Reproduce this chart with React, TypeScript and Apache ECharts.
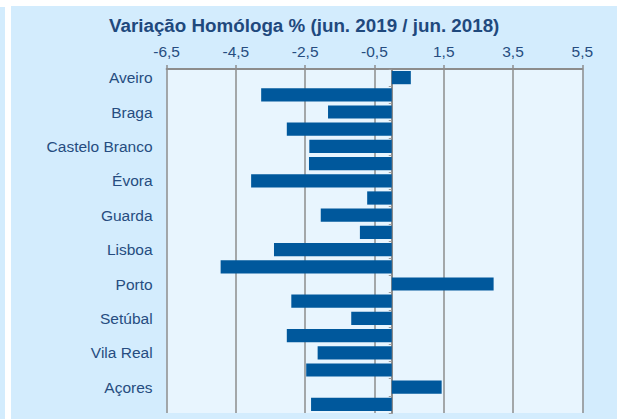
import React, { useEffect, useRef } from "react";
import * as echarts from "echarts";

const categories = [
  "Aveiro", "Beja", "Braga", "Bragança", "Castelo Branco", "Coimbra", "Évora", "Faro",
  "Guarda", "Leiria", "Lisboa", "Portalegre", "Porto", "Santarém", "Setúbal",
  "Viana do Castelo", "Vila Real", "Viseu", "Açores", "Madeira",
];
const values = [
  0.55, -3.77, -1.84, -3.03, -2.38, -2.39, -4.06, -0.71, -2.05, -0.92,
  -3.4, -4.94, 2.94, -2.9, -1.17, -3.03, -2.14, -2.47, 1.44, -2.33,
];
const axisMin = -6.5;
const axisMax = 5.5;
const tickStep = 2;
const titleText = "Variação Homóloga % (jun. 2019 / jun. 2018)";
const FONT = "Arial, 'Liberation Sans'";

export default function App() {
  const ref = useRef<HTMLDivElement>(null);
  useEffect(() => {
    if (!ref.current) return;
    const chart = echarts.init(ref.current, null, { renderer: "svg" });
    const span = axisMax - axisMin;
    chart.setOption({
      animation: false,
      backgroundColor: "#d3ecfd",
      graphic: [
        { type: "rect", shape: { x: 0, y: 0, width: 617, height: 6 }, style: { fill: "#ffffff" }, silent: true },
        { type: "rect", shape: { x: 0, y: 0, width: 5, height: 7 }, style: { fill: "#ffffff" }, silent: true },
        { type: "rect", shape: { x: 5, y: 0, width: 6, height: 419 }, style: { fill: "#ffffff" }, silent: true },
      ],
      title: {
        text: titleText,
        left: 104,
        top: 11,
        textStyle: { fontFamily: FONT, fontSize: 18.8, fontWeight: "bold", color: "#1f497d" },
      },
      grid: {
        left: 166.6,
        top: 69,
        width: 415.7,
        height: 344,
        show: true,
        backgroundColor: "#e8f5fe",
        borderWidth: 0,
      },
      xAxis: [
        {
          type: "value",
          position: "top",
          min: 0,
          max: span,
          interval: tickStep,
          axisLine: { show: true, lineStyle: { color: "#8c8c8c", width: 2 } },
          axisTick: { show: true, length: 4, lineStyle: { color: "#8c8c8c", width: 1.5 } },
          splitLine: { show: true, lineStyle: { color: "#8c8c8c", width: 1.5 } },
          axisLabel: {
            margin: 10,
            fontFamily: FONT,
            fontSize: 15.5,
            color: "#264c80",
            formatter: (v: number) => (v + axisMin).toFixed(1).replace(".", ","),
          },
        },
        {
          type: "value",
          min: axisMin,
          max: axisMax,
          show: false,
          splitLine: { show: false },
        },
      ],
      yAxis: [
        {
          type: "category",
          data: categories,
          inverse: true,
          axisLine: { show: false },
          axisTick: { show: false },
          axisLabel: {
            interval: 1,
            margin: 14,
            fontFamily: FONT,
            fontSize: 15.5,
            color: "#264c80",
          },
        },
        {
          type: "category",
          data: categories,
          inverse: true,
          position: "left",
          axisLine: { show: true, onZero: true, onZeroAxisIndex: 1, lineStyle: { color: "#8c8c8c", width: 2 } },
          axisTick: { show: true, length: 3, lineStyle: { color: "#9a9a9a", width: 1 } },
          axisLabel: { show: false },
        },
      ],
      series: [
        {
          type: "bar",
          xAxisIndex: 1,
          yAxisIndex: 0,
          data: values,
          barCategoryGap: "23%",
          itemStyle: { color: "#00589c" },
        },
      ],
    });
    return () => chart.dispose();
  }, []);
  return <div ref={ref} style={{ position: "fixed", left: 0, top: 0, width: 617, height: 419 }} />;
}
